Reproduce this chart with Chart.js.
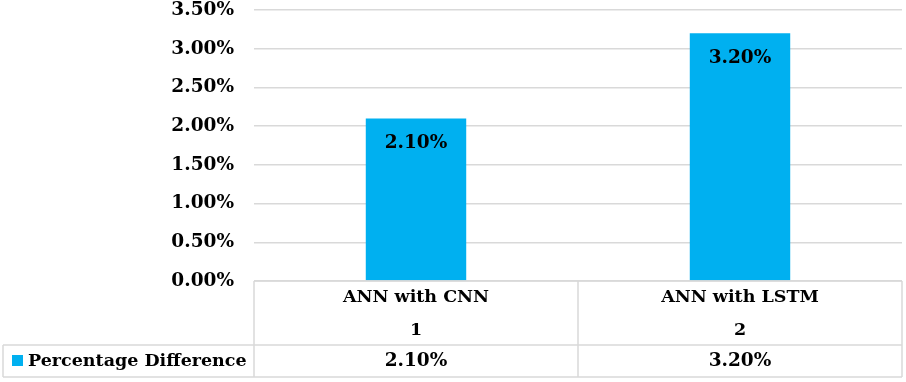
<!doctype html>
<html lang="en">
<head>
<meta charset="utf-8">
<style>
  * { margin: 0; padding: 0; }
  body { background: #fff; }
  .chartBox { width: 906px; height: 382px; }
</style>
</head>
<body>
<div class="chartBox"><canvas id="myChart"></canvas></div>
<script src="https://cdn.jsdelivr.net/npm/chart.js"></script>
<script>
  // setup
  const categories = ['ANN with CNN', 'ANN with LSTM']
  const categoryIndex = ['1', '2']
  const seriesName = 'Percentage Difference'
  const percentDiff = [2.10, 3.20]
  const yMin = 0
  const yMax = 3.5
  const yStep = 0.5

  const barColor = '#00B0F0'
  const lineColor = '#d9d9d9'
  const fontFamily = "'DejaVu Serif', serif"
  const numFont = 'bold 18.5px ' + fontFamily
  const wordFont = 'bold 17.5px ' + fontFamily
  const fmt = v => v.toFixed(2) + '%'

  // value labels inside the top of each bar
  const barLabels = {
    id: 'barLabels',
    afterDatasetsDraw(chart) {
      const ctx = chart.ctx
      const meta = chart.getDatasetMeta(0)
      ctx.save()
      ctx.font = numFont
      ctx.fillStyle = '#000'
      ctx.textAlign = 'center'
      ctx.textBaseline = 'middle'
      meta.data.forEach((bar, i) => {
        ctx.fillText(fmt(percentDiff[i]), bar.x, bar.y + 25)
      })
      ctx.restore()
    }
  }

  // excel style data table under the plot
  const dataTable = {
    id: 'dataTable',
    afterDraw(chart) {
      const ctx = chart.ctx
      const xs = chart.scales.x
      const area = chart.chartArea
      const top = area.bottom
      const mid = top + 64
      const bot = mid + 32
      const left = 3
      const half = (area.right - area.left) / categories.length / 2

      ctx.save()
      ctx.strokeStyle = lineColor
      ctx.lineWidth = 1.5
      ctx.beginPath()
      ctx.moveTo(area.left, top); ctx.lineTo(area.right, top)
      categories.forEach((c, i) => {
        const cx = xs.getPixelForValue(i)
        ctx.moveTo(cx - half, top); ctx.lineTo(cx - half, bot)
        if (i == categories.length - 1) { ctx.moveTo(cx + half, top); ctx.lineTo(cx + half, bot) }
      })
      ctx.moveTo(left, mid); ctx.lineTo(area.right, mid)
      ctx.moveTo(left, bot); ctx.lineTo(area.right, bot)
      ctx.moveTo(left, mid); ctx.lineTo(left, bot)
      ctx.stroke()

      ctx.fillStyle = '#000'
      ctx.textBaseline = 'middle'
      ctx.textAlign = 'center'
      categories.forEach((c, i) => {
        const cx = xs.getPixelForValue(i)
        ctx.font = wordFont
        ctx.fillText(c, cx, top + 16)
        ctx.fillText(categoryIndex[i], cx, top + 49)
        ctx.font = numFont
        ctx.fillText(fmt(percentDiff[i]), cx, mid + 16)
      })

      // legend key + series name
      ctx.fillStyle = barColor
      ctx.fillRect(12, mid + 10, 11, 11)
      ctx.fillStyle = '#000'
      ctx.textAlign = 'left'
      ctx.font = wordFont
      ctx.fillText(seriesName, 28, mid + 16)
      ctx.restore()
    }
  }

  const data = {
    labels: categories,
    datasets: [{
      label: seriesName,
      data: percentDiff,
      backgroundColor: barColor,
      categoryPercentage: 1,
      barPercentage: 0.31
    }]
  }

  const config = {
    type: 'bar',
    data,
    options: {
      responsive: true,
      maintainAspectRatio: false,
      animation: false,
      layout: { padding: { left: 4, right: 4, top: 10, bottom: 101 } },
      plugins: { legend: { display: false }, tooltip: { enabled: false } },
      scales: {
        x: {
          display: false
        },
        y: {
          min: yMin,
          max: yMax,
          afterFit: s => { s.width = 250; s.paddingTop = 0; s.paddingBottom = 0 },
          border: { display: false },
          grid: { color: lineColor, lineWidth: 1.5, drawTicks: false },
          ticks: {
            stepSize: yStep,
            padding: 20,
            color: '#000',
            font: { family: fontFamily, size: 18.5, weight: 'bold' },
            callback: v => fmt(v)
          }
        }
      }
    },
    plugins: [barLabels, dataTable]
  }

  const myChart = new Chart(document.getElementById('myChart'), config)
</script>
</body>
</html>
